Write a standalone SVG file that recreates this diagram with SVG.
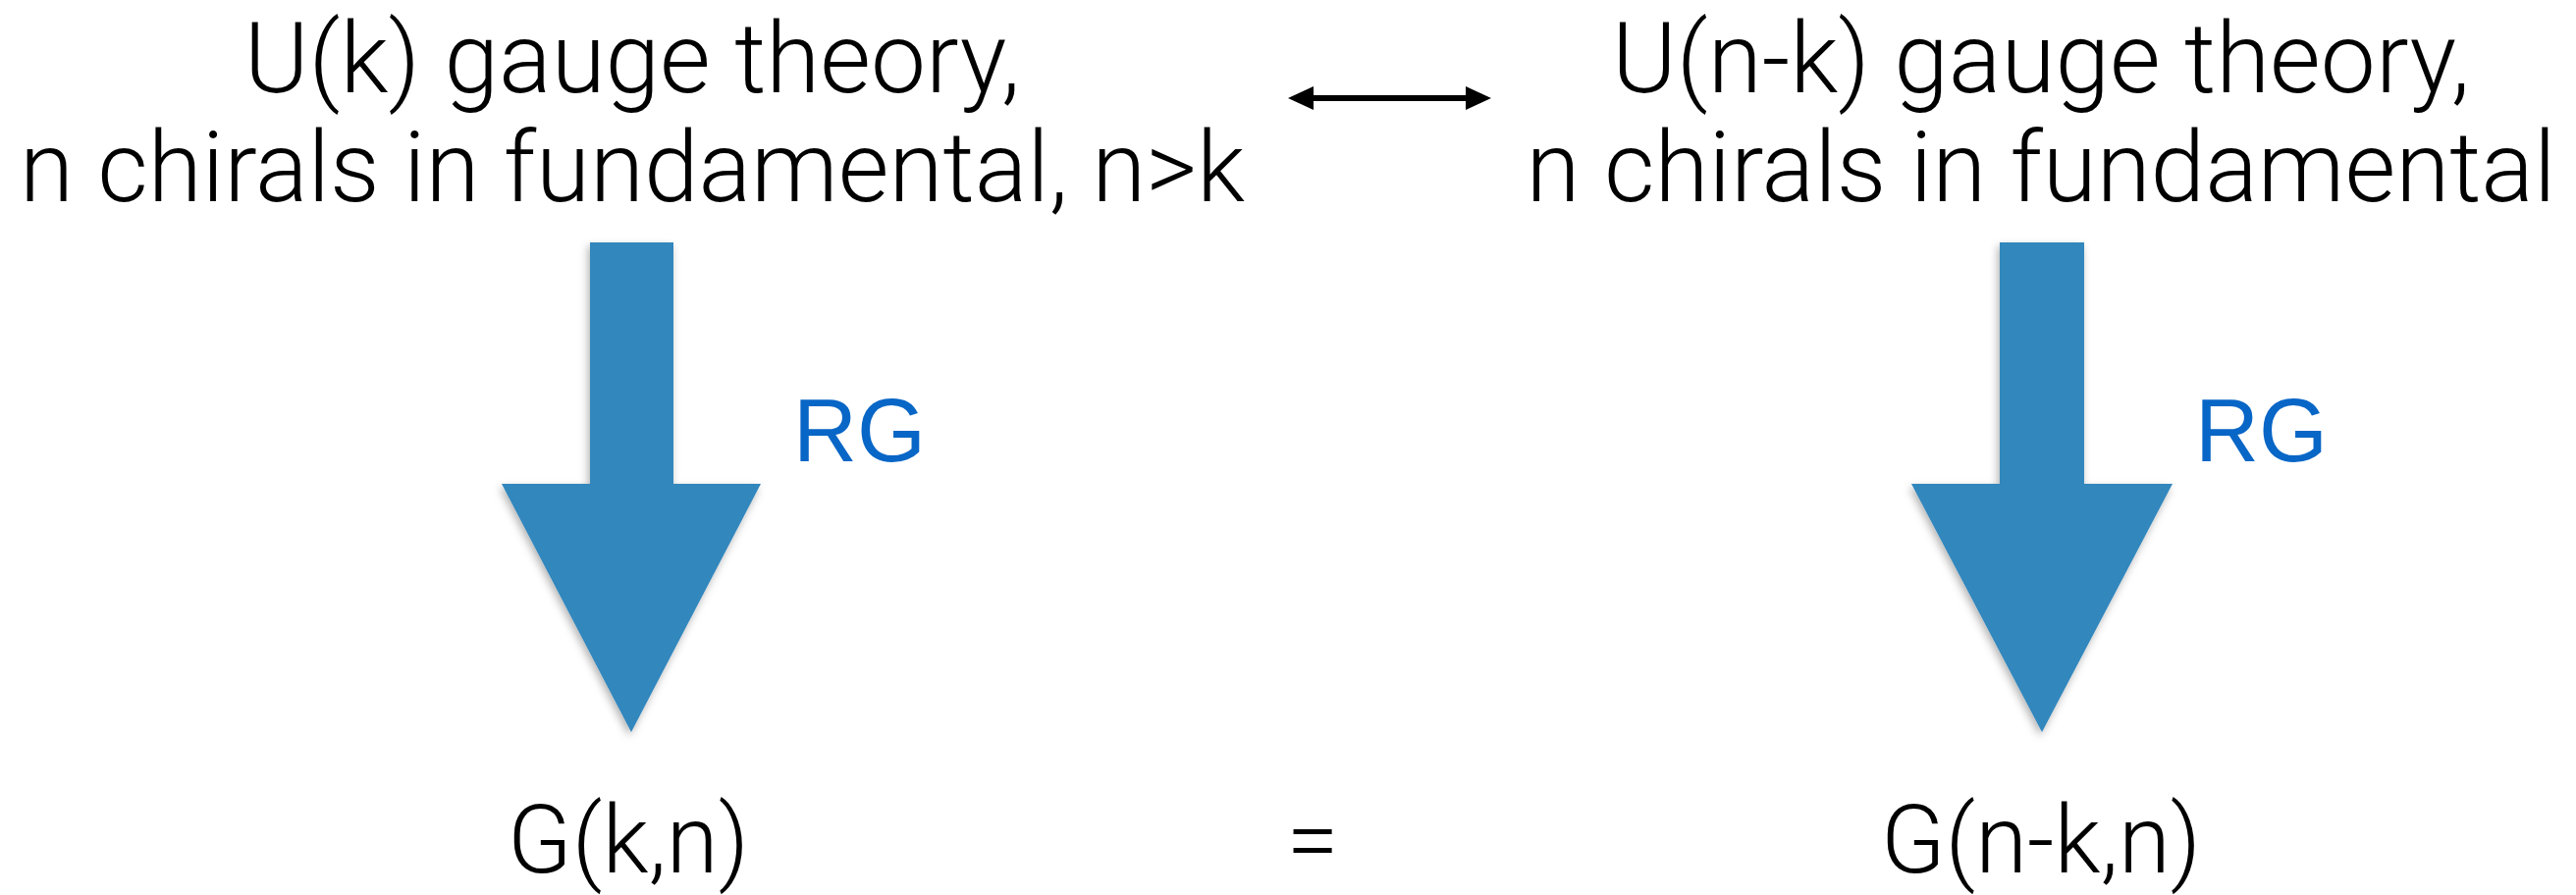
<svg xmlns="http://www.w3.org/2000/svg" width="2624" height="912" viewBox="0 0 2624 912">
  <style>
    .t { font-family: "Roboto", "Liberation Sans", Arial, sans-serif; font-weight: 300; font-size: 100px; fill: #000; text-anchor: middle; }
    .b { font-family: "Roboto", "Liberation Sans", Arial, sans-serif; font-weight: 300; font-size: 96px; fill: #000; text-anchor: middle; }
    .rg { font-family: "Liberation Sans", Arial, sans-serif; font-weight: 400; font-size: 90px; fill: #0866C6; }
    .big { fill: #3287BD; filter: url(#sh); }
  </style>
  <defs>
    <filter id="sh" x="-20%" y="-10%" width="140%" height="130%">
      <feDropShadow dx="-2" dy="4" stdDeviation="4" flood-color="#000" flood-opacity="0.3"/>
    </filter>
    <marker id="ah" viewBox="0 -12 26 24" refX="0" refY="0" markerWidth="26" markerHeight="24" markerUnits="userSpaceOnUse" orient="auto-start-reverse">
      <path d="M0,-12 L26,0 L0,12 z" fill="#000"/>
    </marker>
  </defs>

  <rect width="2624" height="912" fill="#fff"/>

  <g id="left-theory">
    <text class="t" x="644" y="94">U(k) gauge theory,</text>
    <text class="t" x="644" y="205">n chirals in fundamental, n&gt;k</text>
  </g>

  <g id="right-theory">
    <text class="t" x="2079" y="94">U(n-k) gauge theory,</text>
    <text class="t" x="2079" y="205">n chirals in fundamental</text>
  </g>

  <g id="left-result">
    <text class="b" x="640" y="889">G(k,n)</text>
  </g>

  <g id="equals">
    <text class="b" x="1337" y="889">=</text>
  </g>

  <g id="right-result">
    <text class="b" x="2079" y="889">G(n-k,n)</text>
  </g>

  <g id="connectors">
    <line x1="1338" y1="100" x2="1493" y2="100" stroke="#000" stroke-width="6" marker-start="url(#ah)" marker-end="url(#ah)"/>
    <g id="rg-left">
      <polygon class="big" points="601,247 686,247 686,493 775,493 643,746 511,493 601,493"/>
      <text class="rg" x="808" y="470">RG</text>
    </g>
    <g id="rg-right">
      <polygon class="big" points="2037,247 2123,247 2123,493 2213,493 2080,746 1947,493 2037,493"/>
      <text class="rg" x="2236" y="470">RG</text>
    </g>
  </g>
</svg>
